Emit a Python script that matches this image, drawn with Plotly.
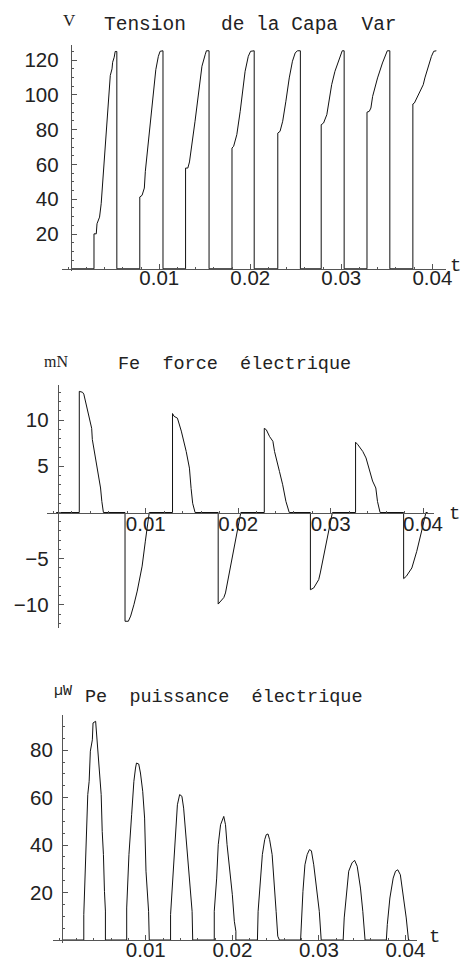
import plotly.graph_objects as go

# ---------------- data ----------------
# Tension de la capacité variable (V) vs t (s)
tension_t = [0.0003, 0.00283,
             0.00283, 0.00308, 0.00316, 0.00344, 0.00362, 0.00380, 0.00391, 0.00434, 0.00462, 0.00481, 0.00488, 0.00505, 0.00516, 0.00534, 0.00534,
             0.00786, 0.00786, 0.00811, 0.00836, 0.00847, 0.00908, 0.00962, 0.00990, 0.01009, 0.01041, 0.01041,
             0.01289, 0.01289, 0.01314, 0.01332, 0.01393, 0.01447, 0.01469, 0.01504, 0.01518, 0.01547, 0.01547,
             0.01799, 0.01799, 0.01817, 0.01852, 0.01889, 0.01917, 0.01943, 0.01978, 0.02003, 0.02043, 0.02043,
             0.02302, 0.02302, 0.02327, 0.02356, 0.02391, 0.02428, 0.02463, 0.02493, 0.02517, 0.02550, 0.02550,
             0.02779, 0.02779, 0.02805, 0.02841, 0.02859, 0.02894, 0.02930, 0.02967, 0.02995, 0.03010, 0.03031, 0.03031,
             0.03282, 0.03282, 0.03307, 0.03325, 0.03344, 0.03398, 0.03452, 0.03487, 0.03505, 0.03533, 0.03533,
             0.03786, 0.03786, 0.03803, 0.03829, 0.03864, 0.03900, 0.03918, 0.03954, 0.03990, 0.04015, 0.04044]
tension_v = [0, 0,
             20.1, 20.1, 25.9, 29.7, 37.4, 49.8, 61.3, 86.2, 111.1, 114.9, 118.7, 121.6, 124.9, 124.9, 0,
             0, 41.3, 42.2, 46.4, 56.0, 86.7, 114.4, 122.1, 125.0, 125.3, 0,
             0, 57.9, 57.9, 61.4, 84.8, 108.7, 116.4, 123.0, 125.3, 125.3, 0,
             0, 69.4, 70.4, 77.1, 90.5, 103.9, 113.5, 122.1, 125.0, 125.3, 0,
             0, 78.0, 79.0, 84.8, 96.3, 109.7, 119.3, 124.0, 125.3, 125.3, 0,
             0, 82.8, 83.8, 88.6, 94.3, 105.8, 113.5, 119.3, 123.0, 125.3, 125.3, 0,
             0, 90.0, 90.5, 92.4, 99.1, 109.7, 118.3, 123.0, 125.3, 125.3, 0,
             0, 94.7, 95.3, 98.2, 102.0, 105.8, 109.7, 116.4, 122.1, 125.0, 125.3]

# Fe force électrique (mN)
force_t = [0.0003, 0.00280,
           0.00280, 0.00315, 0.00329, 0.00358, 0.00393, 0.00414, 0.00421, 0.00435, 0.00510, 0.00524, 0.00541,
           0.00775, 0.00775, 0.00811, 0.00836, 0.00871, 0.00907, 0.00960, 0.00977, 0.00995, 0.01037,
           0.01289, 0.01289, 0.01306, 0.01342, 0.01384, 0.01437, 0.01472, 0.01490, 0.01507, 0.01533,
           0.01783, 0.01783, 0.01809, 0.01844, 0.01862, 0.01915, 0.01968, 0.02003, 0.02028,
           0.02282, 0.02282, 0.02304, 0.02340, 0.02375, 0.02393, 0.02446, 0.02481, 0.02516, 0.02552,
           0.02781, 0.02781, 0.02817, 0.02871, 0.02888, 0.02941, 0.02994, 0.03019,
           0.03270, 0.03270, 0.03295, 0.03348, 0.03383, 0.03401, 0.03454, 0.03489, 0.03507, 0.03535,
           0.03790, 0.03790, 0.03819, 0.03879, 0.03932, 0.03985, 0.04031, 0.0405]
force_v = [0, 0,
           13.1, 13.0, 12.8, 11.65, 10.2, 9.1, 7.9, 7.0, 2.65, 1.2, 0,
           0, -11.76, -11.76, -11.2, -9.97, -8.5, -5.8, -4.2, -3.1, 0,
           0, 10.7, 10.4, 10.2, 8.8, 6.6, 4.8, 2.6, 1.0, 0,
           0, -9.9, -9.6, -9.2, -8.7, -6.0, -3.3, -1.3, 0,
           0, 9.1, 8.95, 8.2, 7.7, 6.6, 4.45, 3.0, 1.2, 0,
           0, -8.35, -8.16, -7.26, -6.54, -4.02, -1.32, 0,
           0, 7.6, 7.33, 6.6, 5.9, 5.2, 3.4, 2.65, 1.2, 0,
           0, -7.15, -6.9, -6.0, -4.2, -2.0, 0, 0]

# Pe puissance électrique (µW)
power_t = [0.0003, 0.00283,
           0.00283, 0.00306, 0.00329, 0.00345, 0.00359, 0.00382, 0.00390, 0.00420, 0.00435, 0.00454, 0.00484, 0.00496, 0.00510, 0.00522, 0.00533, 0.00533,
           0.00779, 0.00779, 0.00805, 0.00836, 0.00862, 0.00881, 0.00892, 0.00918, 0.00938, 0.00964, 0.00986, 0.01002, 0.01014, 0.01032, 0.01040,
           0.01286, 0.01286, 0.01315, 0.01342, 0.01365, 0.01391, 0.01417, 0.01437, 0.01467, 0.01493, 0.01516, 0.01535, 0.01542,
           0.01791, 0.01791, 0.01819, 0.01837, 0.01864, 0.01901, 0.01921, 0.01939, 0.01969, 0.02000, 0.02023, 0.02041, 0.02041,
           0.02290, 0.02298, 0.02324, 0.02347, 0.02374, 0.02392, 0.02412, 0.02431, 0.02460, 0.02488, 0.02506, 0.02525, 0.02544,
           0.02789, 0.02797, 0.02816, 0.02839, 0.02865, 0.02891, 0.02914, 0.02941, 0.02979, 0.03005, 0.03027,
           0.03281, 0.03293, 0.03319, 0.03345, 0.03383, 0.03413, 0.03443, 0.03481, 0.03508, 0.03534,
           0.03780, 0.03791, 0.03821, 0.03859, 0.03886, 0.03912, 0.03942, 0.03980, 0.04010, 0.04036, 0.0405]
power_v = [0, 0,
           10.7, 37.4, 61.3, 66.9, 79.6, 84.4, 91.5, 92.2, 85.2, 78.1, 61.3, 45.8, 36.0, 20.5, 12.2, 0,
           0, 13.5, 36.0, 52.8, 66.9, 72.5, 74.6, 74.2, 70.4, 62.7, 51.4, 29.0, 20.5, 12.1, 0,
           0, 10.7, 29.0, 44.4, 57.0, 61.3, 60.6, 55.6, 43.0, 30.4, 20.5, 12.1, 0,
           0, 12.1, 26.1, 40.2, 48.6, 52.1, 48.6, 40.2, 30.4, 19.1, 7.9, 3.7, 0,
           0, 12.1, 27.5, 36.0, 42.3, 44.4, 44.7, 42.3, 36.0, 23.3, 12.1, 1.6, 0,
           0, 6.5, 20.5, 31.7, 36.0, 38.1, 37.6, 31.7, 20.5, 12.1, 0,
           0, 9.3, 20.5, 29.0, 32.5, 33.6, 31.1, 21.9, 12.1, 0,
           0, 6.5, 17.7, 26.1, 29.0, 29.6, 27.5, 17.7, 9.3, 0, 0]

# tick labels
t_ticks = [0.01, 0.02, 0.03, 0.04]
t_labels = ["0.01", "0.02", "0.03", "0.04"]
tension_ticks = [20, 40, 60, 80, 100, 120]
force_ticks = [-10, -5, 5, 10]
power_ticks = [20, 40, 60, 80]

# ---------------- layout (pixels) ----------------
W, H = 472, 962
AX = "#555555"
TXT = "#222222"
NBSP = "\u00a0"

def fx(px):
    return px / W

def fy(py):
    return 1 - py / H

panels = [
    dict(xpx=(55, 447), xr=(-0.00069, 0.041552), ypx=(37, 263), yr=(-1.264, 128.62), yax=64, xax=260.8,
         yt=tension_ticks, ym=5, xso=-9, yso=8),
    dict(xpx=(40, 434), xr=(-0.000669, 0.041157), ypx=(376.7, 620), yr=(-12.49, 13.82), yax=50.7, xax=504.5,
         yt=force_ticks, ym=1, xso=-7, yso=5),
    dict(xpx=(45.7, 417.3), xr=(-0.000748, 0.041383), ypx=(706.7, 935), yr=(-1.265, 94.98), yax=55, xax=932,
         yt=power_ticks, ym=5, xso=-9, yso=5),
]

series = [(tension_t, tension_v), (force_t, force_v), (power_t, power_v)]

fig = go.Figure()
layout = dict(width=W, height=H, margin=dict(l=0, r=0, t=0, b=0), autosize=False,
              paper_bgcolor="white", plot_bgcolor="white", showlegend=False)

for i, (p, (tt, vv)) in enumerate(zip(panels, series), start=1):
    sx = "" if i == 1 else str(i)
    fig.add_trace(go.Scatter(x=tt, y=vv, mode="lines", xaxis="x" + sx, yaxis="y" + sx,
                             line=dict(color="#111111", width=1), hoverinfo="skip"))
    layout["xaxis" + sx] = dict(
        domain=[fx(p["xpx"][0]), fx(p["xpx"][1])], range=list(p["xr"]),
        anchor="free", position=fy(p["xax"]),
        showline=True, linecolor=AX, linewidth=1,
        ticks="inside", ticklen=5, tickwidth=1, tickcolor=AX,
        tickvals=t_ticks, ticktext=t_labels, ticklabelstandoff=p["xso"],
        minor=dict(ticks="inside", ticklen=2, tickwidth=1, tickcolor=AX, dtick=0.002, tick0=0),
        showgrid=False, zeroline=False,
        tickfont=dict(family="Liberation Sans", size=20.5, color=TXT))
    layout["yaxis" + sx] = dict(
        domain=[fy(p["ypx"][1]), fy(p["ypx"][0])], range=list(p["yr"]),
        anchor="free", position=fx(p["yax"]),
        showline=True, linecolor=AX, linewidth=1,
        ticks="inside", ticklen=5, tickwidth=1, tickcolor=AX,
        tickvals=p["yt"], ticklabelstandoff=p["yso"],
        minor=dict(ticks="inside", ticklen=2, tickwidth=1, tickcolor=AX, dtick=p["ym"], tick0=0),
        showgrid=False, zeroline=False,
        tickfont=dict(family="Liberation Sans", size=20.5, color=TXT))

mono = "Liberation Mono"
ann = []
def add_text(text, x, y, family, size, xanchor="center"):
    ann.append(dict(text=text, x=fx(x), y=fy(y), xref="paper", yref="paper",
                    xanchor=xanchor, yanchor="middle", showarrow=False,
                    font=dict(family=family, size=size, color=TXT)))

add_text("V", 63, 12, "Liberation Serif", 17)
add_text(NBSP.join(["Tension", "", "", "de", "la", "Capa", "", "Var"]), 96, 17, mono, 19.5, "left")
add_text("t", 456, 258, mono, 19)

add_text("mN", 49, 354, "Liberation Serif", 16)
add_text(NBSP.join(["Fe", "", "force", "", "électrique"]), 110, 356, mono, 18.5, "left")
add_text("t", 455, 506, mono, 19)

add_text("µW", 56, 683, mono, 15)
add_text(NBSP.join(["Pe", "", "puissance", "", "électrique"]), 76, 689, mono, 18.5, "left")
add_text("t", 435, 929, mono, 19)

layout["annotations"] = ann
fig.update_layout(**layout)
fig.write_html("out.html")
